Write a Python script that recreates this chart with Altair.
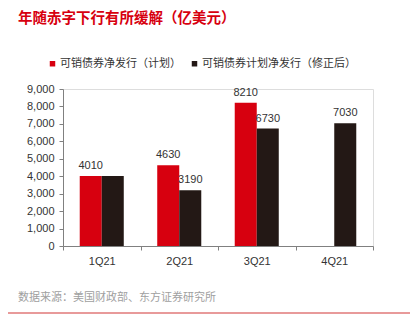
import altair as alt
import pandas as pd

# ---- data ----
title_text = "年随赤字下行有所缓解（亿美元）"
source_text = "数据来源：美国财政部、东方证券研究所"
quarters = ["1Q21", "2Q21", "3Q21", "4Q21"]
series = ["可销债券净发行（计划）", "可销债券计划净发行（修正后）"]
plan = [4010, 4630, 8210, None]
revised = [4010, 3190, 6730, 7030]
plan_labels = ["4010", "4630", "8210", ""]
revised_labels = ["", "3190", "6730", "7030"]
y_ticks = [0, 1000, 2000, 3000, 4000, 5000, 6000, 7000, 8000, 9000]
colors = ["#D7000F", "#231815"]

rows = []
for i, q in enumerate(quarters):
    rows.append({"q": q, "s": series[0], "v": plan[i], "lab": plan_labels[i]})
    rows.append({"q": q, "s": series[1], "v": revised[i], "lab": revised_labels[i]})
df = pd.DataFrame(rows)

FONT = "Liberation Sans"
CJK = "Noto Sans CJK SC"
AXC = "#808080"

x = alt.X("q:N", sort=quarters,
          scale=alt.Scale(paddingInner=0, paddingOuter=0),
          axis=alt.Axis(title=None, labelAngle=0, tickBand="extent",
                        domainColor=AXC, tickColor=AXC, tickSize=4,
                        labelPadding=5, labelFont=FONT, labelFontSize=11,
                        labelColor="#333333"))
xo = alt.XOffset("s:N", sort=series,
                 scale=alt.Scale(paddingInner=0, paddingOuter=0.76))
y = alt.Y("v:Q", scale=alt.Scale(domain=[0, 9000], nice=False),
          axis=alt.Axis(title=None, values=y_ticks, format=",.0f", grid=False,
                        domainColor=AXC, tickColor=AXC, tickSize=4,
                        labelPadding=5, labelFont=FONT, labelFontSize=11,
                        labelColor="#333333"))

base = alt.Chart(df)
bars = base.mark_bar().encode(
    x=x, xOffset=xo, y=y,
    color=alt.Color("s:N", sort=series,
                    scale=alt.Scale(domain=series, range=colors),
                    legend=alt.Legend(orient="none", legendX=-16, legendY=-31,
                                      direction="horizontal", title=None,
                                      symbolType="square", symbolSize=30,
                                      symbolStrokeWidth=0,
                                      labelFont=CJK, labelFontSize=11,
                                      labelColor="#333333", columnPadding=8,
                                      labelOffset=2, labelLimit=300)),
)
labels = base.mark_text(baseline="alphabetic", dy=-7, font=FONT,
                        fontSize=11, color="#333333").encode(
    x=x, xOffset=xo, y=y, text="lab:N")

meta = pd.DataFrame({"title": [title_text], "source": [source_text]})
mb = alt.Chart(meta)
title = mb.mark_text(align="left", baseline="middle", font=CJK, fontSize=14.5,
                     fontWeight="bold", color="#D7000F").encode(
    x=alt.value(-45), y=alt.value(-70), text="title:N")
source = mb.mark_text(align="left", baseline="middle", font=CJK, fontSize=11,
                      color="#A0A0A0").encode(
    x=alt.value(-45), y=alt.value(209), text="source:N")
line = mb.mark_rule(color="#E89A9A", strokeWidth=2).encode(
    x=alt.value(-55), x2=alt.value(347), y=alt.value(224))

chart = alt.layer(bars, labels, title, source, line).properties(
    width=310, height=157,
    autosize=alt.AutoSizeParams(type="none"),
    padding={"left": 63, "top": 89, "right": 40, "bottom": 80},
).configure_view(stroke=None).configure(background="white")

chart.save("out.html", embed_options={"renderer": "svg", "actions": False})
